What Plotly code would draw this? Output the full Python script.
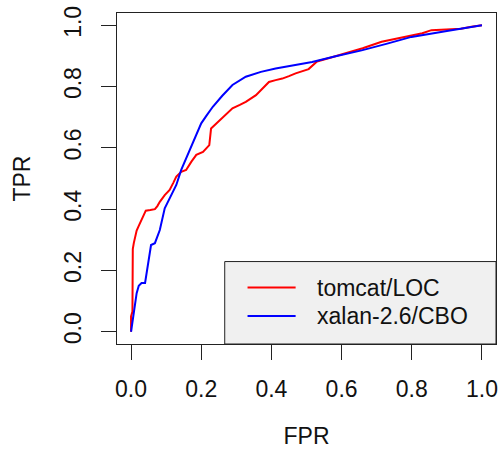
import plotly.graph_objects as go

# ---- data ----
tomcat_fpr = [0.0, 0.0, 0.004, 0.004, 0.005, 0.008, 0.011, 0.016, 0.021, 0.03, 0.042, 0.055, 0.068,
              0.075, 0.082, 0.096, 0.11, 0.12, 0.129, 0.143, 0.157, 0.172, 0.186, 0.205, 0.223,
              0.228, 0.252, 0.27, 0.289, 0.31, 0.327, 0.356, 0.374, 0.393, 0.412, 0.431, 0.45,
              0.469, 0.506, 0.52, 0.53, 0.57, 0.61, 0.66, 0.714, 0.76, 0.8, 0.83, 0.856, 0.9,
              0.94, 0.97, 1.0]
tomcat_tpr = [0.0, 0.05, 0.066, 0.15, 0.27, 0.29, 0.31, 0.33, 0.343, 0.365, 0.395, 0.397, 0.40,
              0.41, 0.424, 0.446, 0.463, 0.485, 0.506, 0.522, 0.528, 0.555, 0.577, 0.587, 0.609,
              0.663, 0.69, 0.71, 0.729, 0.74, 0.75, 0.772, 0.794, 0.815, 0.821, 0.826, 0.834,
              0.843, 0.857, 0.87, 0.882, 0.895, 0.908, 0.925, 0.946, 0.958, 0.967, 0.974, 0.984,
              0.986, 0.989, 0.995, 1.0]

xalan_fpr = [0.0, 0.004, 0.007, 0.012, 0.016, 0.022, 0.03, 0.04, 0.048, 0.057, 0.068, 0.082,
             0.096, 0.11, 0.129, 0.143, 0.162, 0.181, 0.2, 0.215, 0.233, 0.26, 0.289, 0.327,
             0.37, 0.412, 0.46, 0.516, 0.58, 0.657, 0.73, 0.799, 0.9, 1.0]
xalan_tpr = [0.0, 0.03, 0.05, 0.09, 0.126, 0.15, 0.159, 0.159, 0.22, 0.283, 0.289, 0.332,
             0.403, 0.435, 0.479, 0.528, 0.577, 0.625, 0.68, 0.705, 0.734, 0.77, 0.805, 0.832,
             0.848, 0.859, 0.868, 0.88, 0.898, 0.918, 0.94, 0.962, 0.981, 1.0]

series_names = ["tomcat/LOC", "xalan-2.6/CBO"]
series_colors = ["#ff0000", "#0000ff"]
tick_vals = [0.0, 0.2, 0.4, 0.6, 0.8, 1.0]
tick_text = ["0.0", "0.2", "0.4", "0.6", "0.8", "1.0"]

FONT = "Liberation Sans, Arial, sans-serif"
FS = 23

fig = go.Figure()
for xs, ys, name, col in [(tomcat_fpr, tomcat_tpr, series_names[0], series_colors[0]),
                          (xalan_fpr, xalan_tpr, series_names[1], series_colors[1])]:
    fig.add_trace(go.Scatter(x=xs, y=ys, mode="lines", name=name,
                             line=dict(color=col, width=2), showlegend=False))

axis_common = dict(
    tickmode="array", tickvals=tick_vals, ticktext=tick_text,
    ticks="outside", ticklen=15, tickwidth=1, tickcolor="#222",
    showline=True, mirror=True, linecolor="#222", linewidth=1,
    showgrid=False, zeroline=False, automargin=False,
    ticklabeloverflow="allow",
    tickfont=dict(family=FONT, size=FS, color="#111"),
)

fig.update_layout(
    width=503, height=449,
    margin=dict(l=117, r=7, t=13, b=105),
    paper_bgcolor="white", plot_bgcolor="white",
    font=dict(family=FONT, size=FS, color="#111"),
    xaxis=dict(range=[-0.04, 1.04], ticklabelstandoff=9,
               title=dict(text="FPR", font=dict(family=FONT, size=FS, color="#111"), standoff=31),
               **axis_common),
    yaxis=dict(range=[-0.04, 1.04], tickangle=-90, ticklabelstandoff=11,
               title=dict(text="TPR", font=dict(family=FONT, size=FS, color="#111"), standoff=22),
               **axis_common),
)

# legend box (drawn manually to match the R-style legend)
lx0, lx1, ly0, ly1 = 0.267, 1.04, -0.04, 0.229
fig.add_shape(type="rect", xref="x", yref="y", x0=lx0, x1=lx1, y0=ly0, y1=ly1,
              fillcolor="#f0f0f0", line=dict(color="#222", width=1), layer="above")
row_y = [0.144, 0.051]
for name, col, ry in zip(series_names, series_colors, row_y):
    fig.add_shape(type="line", xref="x", yref="y", x0=0.332, x1=0.469, y0=ry, y1=ry,
                  line=dict(color=col, width=2), layer="above")
    fig.add_annotation(x=0.525, y=ry, xref="x", yref="y", text=name, showarrow=False,
                       xanchor="left", yanchor="middle",
                       font=dict(family=FONT, size=FS, color="#111"))

# remove the default page margin so the figure sits at the window's top-left corner
fig.write_html("out.html", config={"displayModeBar": False},
               post_script="document.body.style.margin='0';document.body.style.overflow='hidden';")
